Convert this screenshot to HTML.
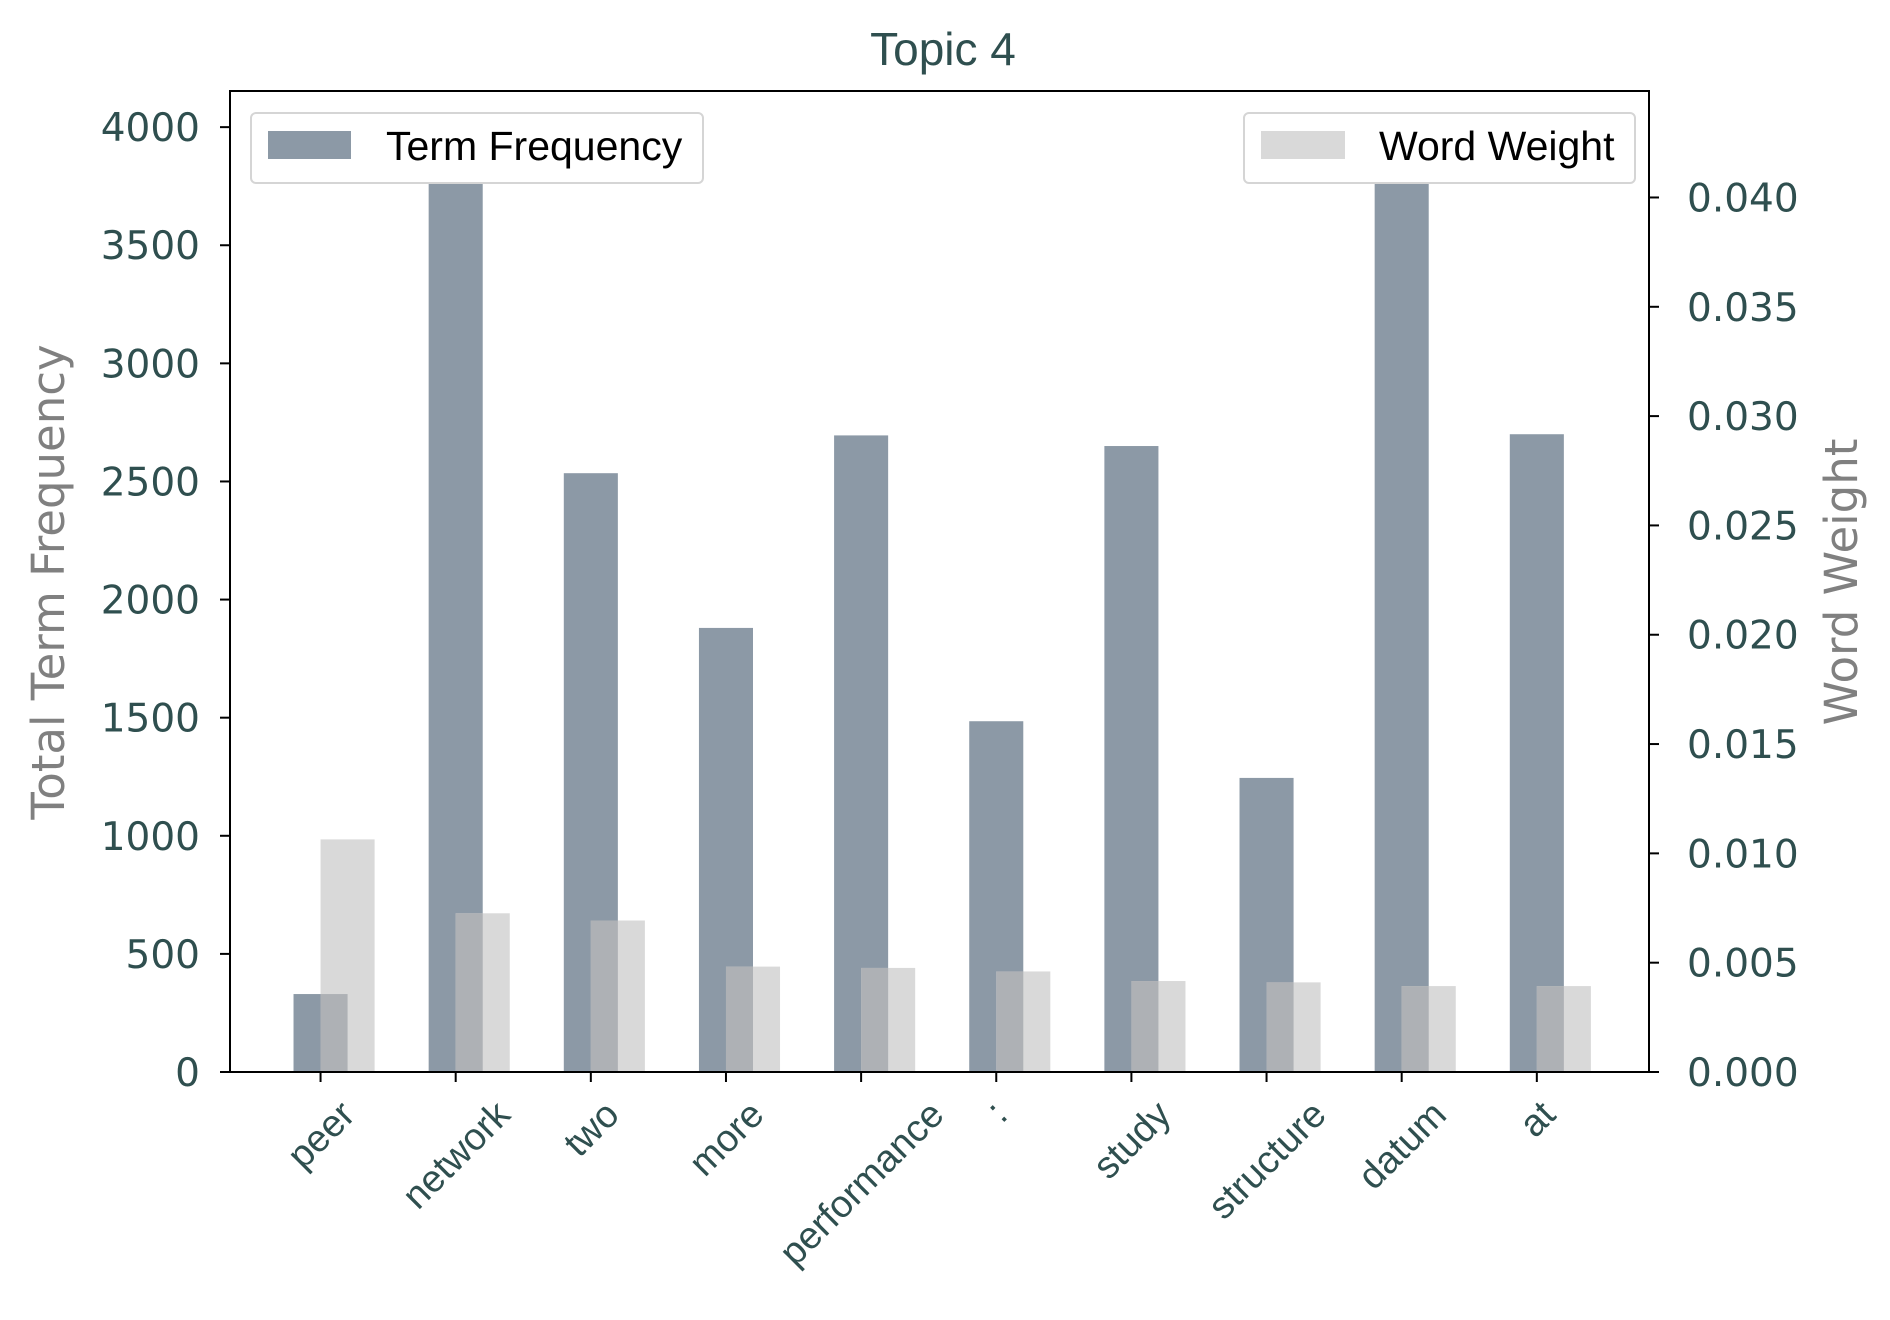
<!DOCTYPE html>
<html><head><meta charset="utf-8"><style>html,body{margin:0;padding:0;background:#fff}svg{display:block}</style></head>
<body>
<svg id="chart" width="1890" height="1320" viewBox="0 0 1890 1320" xmlns="http://www.w3.org/2000/svg">
<g id="plot"></g>
<rect x="230" y="91" width="1419" height="981" fill="none" stroke="#000" stroke-width="2"/>
<text x="943" y="65" text-anchor="middle" font-family="Liberation Sans, sans-serif" font-size="46" fill="#2f4f4f">Topic 4</text>
<text transform="translate(64 582) rotate(-90)" text-anchor="middle" font-family="DejaVu Sans, sans-serif" font-size="45" fill="#808080">Total Term Frequency</text>
<text transform="translate(1857 582) rotate(-90)" text-anchor="middle" font-family="DejaVu Sans, sans-serif" font-size="45" fill="#808080">Word Weight</text>
<g>
<rect x="251" y="113" width="452" height="70" rx="5" fill="#fff" stroke="#d5d5d5" stroke-width="2"/>
<rect x="268" y="131" width="83" height="28" fill="#8c99a6"/>
<text x="386" y="160" font-family="Liberation Sans, sans-serif" font-size="41" fill="#000">Term Frequency</text>
</g>
<g>
<rect x="1244" y="113" width="391" height="70" rx="5" fill="#fff" stroke="#d5d5d5" stroke-width="2"/>
<rect x="1261" y="131" width="84" height="28" fill="#d9d9d9"/>
<text x="1379" y="160" font-family="Liberation Sans, sans-serif" font-size="41" fill="#000">Word Weight</text>
</g>
</svg>
<script>
const categories = ["peer","network","two","more","performance",":","study","structure","datum","at"];
const termFrequency = [330, 3900, 2535, 1880, 2695, 1485, 2650, 1245, 3900, 2700];
const wordWeight = [0.01064, 0.00726, 0.00693, 0.00482, 0.00476, 0.0046, 0.00416, 0.0041, 0.00393, 0.00393];
const leftTicks = [0,500,1000,1500,2000,2500,3000,3500,4000];
const rightTicks = ["0.000","0.005","0.010","0.015","0.020","0.025","0.030","0.035","0.040"];

const L=230, R=1649, T=91, B=1072;
const yMaxL=4153, yMaxR=0.04487, xMin=-0.67, xMax=9.83;
const xs = v => L + (v - xMin) / (xMax - xMin) * (R - L);
const yl = v => B - v / yMaxL * (B - T);
const yr = v => B - v / yMaxR * (B - T);
const NS="http://www.w3.org/2000/svg";
const g=document.getElementById('plot');
function mk(tag, attrs, parent){const e=document.createElementNS(NS,tag);for(const k in attrs)e.setAttribute(k,attrs[k]);(parent||g).appendChild(e);return e;}
const tickFont='"DejaVu Sans", sans-serif';
const unit=(R-L)/(xMax-xMin), bw=0.4*unit;

const defs=mk('clipPath',{id:'clip'});mk('rect',{x:L,y:T,width:R-L,height:B-T},defs);
const bars=mk('g',{'clip-path':'url(#clip)'});
categories.forEach((c,i)=>{
  const cx=xs(i);
  const y1=Math.max(yl(termFrequency[i]),T-5);
  const r1=mk('rect',{x:cx-bw/2,y:y1,width:bw,height:B-y1,fill:'#8c99a6'},bars);
  
  
  const y2=yr(wordWeight[i]);
  const r2=mk('rect',{x:cx,y:y2,width:bw,height:B-y2,fill:'#d9d9d9'},bars);
  
  
  const yo=Math.max(y1,y2);
  const r3=mk('rect',{x:cx,y:yo,width:bw/2,height:B-yo,fill:'#aeb1b5'},bars);
  
  
  mk('line',{x1:cx,x2:cx,y1:B,y2:B+10,stroke:'#000','stroke-width':2});
  const fs=38;
  const t=mk('text',{x:0,y:0,'text-anchor':'middle','font-family':'"Liberation Sans", sans-serif','font-size':fs,fill:'#2f4f4f'});
  t.textContent=c;
  
  
  const w=t.getComputedTextLength(), h=fs*1.15;
  const half=(w+h)/(2*Math.SQRT2);
  const cy=B+20+half;
  t.setAttribute('transform',`translate(${cx} ${cy}) rotate(-45) translate(0 ${fs*0.35})`);
});
leftTicks.forEach(v=>{
  const y=yl(v);
  mk('line',{x1:L-10,x2:L,y1:y,y2:y,stroke:'#000','stroke-width':2});
  const t=mk('text',{x:L-30,y:y+14,'text-anchor':'end','font-family':tickFont,'font-size':39,fill:'#2f4f4f'});
  t.textContent=v;
  
  
});
rightTicks.forEach(s=>{
  const y=yr(parseFloat(s));
  mk('line',{x1:R,x2:R+10,y1:y,y2:y,stroke:'#000','stroke-width':2});
  const t=mk('text',{x:R+38,y:y+14,'font-family':tickFont,'font-size':39,fill:'#2f4f4f'});
  t.textContent=s;
  
  
});
</script>
</body></html>
